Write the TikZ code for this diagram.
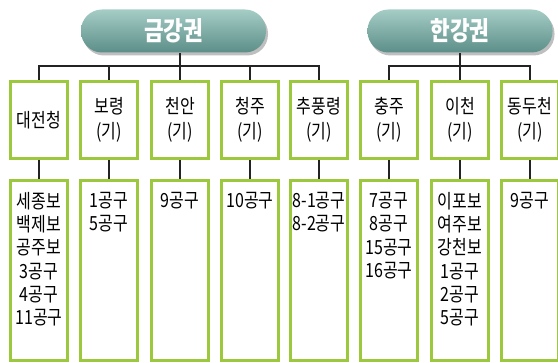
\documentclass[tikz,border=0pt]{standalone}
\usepackage{fontspec}
\setmainfont{Noto Sans CJK KR}[FakeStretch=0.82]
\usetikzlibrary{shadows}
\definecolor{boxgreen}{RGB}{155,200,60}
\definecolor{linegray}{RGB}{35,35,35}
\definecolor{pilltop}{RGB}{165,205,198}
\definecolor{pillbot}{RGB}{92,142,136}
\begin{document}
\begin{tikzpicture}[x=1pt,y=-1pt,
  box/.style={draw=boxgreen,line width=3pt,minimum width=57pt,inner sep=0pt,fill=white,align=center,font=\fontsize{19.5}{25}\selectfont},
  topbox/.style={box,minimum height=77pt},
  botbox/.style={box,minimum height=180pt},
  conn/.style={draw=linegray,line width=2pt},
  list/.style={anchor=north,align=center,inner sep=0pt,font=\fontsize{19.5}{23.3}\selectfont},
  pill/.style={rectangle,rounded corners=21pt,minimum width=185pt,minimum height=43pt,top color=pilltop,bottom color=pillbot,text=white,font=\bfseries\fontsize{26}{26}\selectfont,drop shadow={shadow xshift=2pt,shadow yshift=-3pt,opacity=0.25,fill=black}}]
\useasboundingbox (0,0) rectangle (558,363);
% pills
\node[pill] (g) at (173.5,31) {금강권};
\node[pill] (h) at (460,31) {한강권};
% top boxes
\node[topbox] (b1) at (39,120) {대전청};
\node[topbox] (b2) at (109,120) {보령\\(기)};
\node[topbox] (b3) at (180,120) {천안\\(기)};
\node[topbox] (b4) at (250,120) {청주\\(기)};
\node[topbox] (b5) at (319,120) {추풍령\\(기)};
\node[topbox] (b6) at (389,120) {충주\\(기)};
\node[topbox] (b7) at (460,120) {이천\\(기)};
\node[topbox] (b8) at (530,120) {동두천\\(기)};
% bottom boxes
\foreach \i/\x in {1/39,2/109,3/180,4/250,5/319,6/389,7/460,8/530}{
  \node[botbox] (c\i) at (\x,270.5) {};
}
\node[list] (t1) at (c1.north |- 0,192) {세종보\\백제보\\공주보\\3공구\\4공구\\11공구};
\node[list] (t2) at (c2.north |- 0,192) {1공구\\5공구};
\node[list] (t3) at (c3.north |- 0,192) {9공구};
\node[list] (t4) at (c4.north |- 0,192) {10공구};
\node[list] (t5) at (c5.north |- 0,192) {8-1공구\\8-2공구};
\node[list] (t6) at (c6.north |- 0,192) {7공구\\8공구\\15공구\\16공구};
\node[list] (t7) at (c7.north |- 0,192) {이포보\\여주보\\강천보\\1공구\\2공구\\5공구};
\node[list] (t8) at (c8.north |- 0,192) {9공구};
% connectors
\coordinate (gbus) at (0,66);
\draw[conn] (b1.north) -- (b1.north |- gbus) -- (b5.north |- gbus) -- (b5.north);
\draw[conn] (b2.north) -- (b2.north |- gbus);
\draw[conn] (b4.north) -- (b4.north |- gbus);
\draw[conn] (b3.north |- g.south) -- (b3.north);
\draw[conn] (b6.north) -- (b6.north |- gbus) -- (b8.north |- gbus) -- (b8.north);
\draw[conn] (b7.north |- h.south) -- (b7.north);
\foreach \i in {1,...,8}{
  \draw[conn] (b\i.south) -- (c\i.north);
}
\end{tikzpicture}
\end{document}
